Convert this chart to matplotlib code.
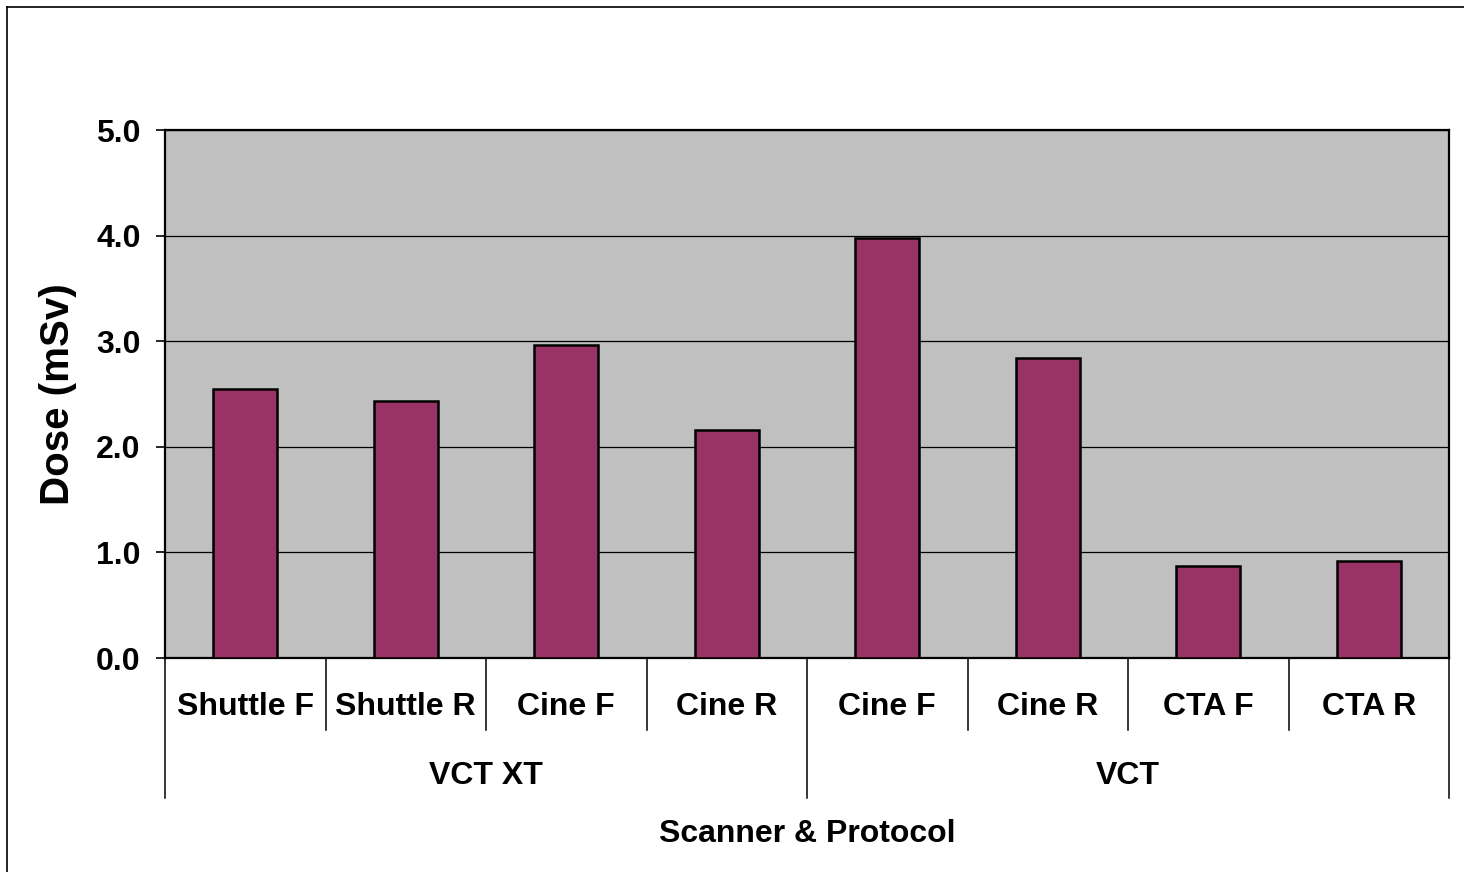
import matplotlib
matplotlib.use('Agg')
import matplotlib.pyplot as plt
from matplotlib.lines import Line2D

# data
protocols = ['Shuttle F', 'Shuttle R', 'Cine F', 'Cine R', 'Cine F', 'Cine R', 'CTA F', 'CTA R']
scanners = ['VCT XT', 'VCT']
scanner_sizes = [4, 4]
dose = [2.55, 2.43, 2.96, 2.16, 3.98, 2.84, 0.87, 0.92]

plt.rcParams['font.family'] = ['Liberation Sans', 'DejaVu Sans']
plt.rcParams['font.weight'] = 'bold'

fig = plt.figure(figsize=(14.64, 8.72), dpi=100)
ax = fig.add_axes([165/1464, 1 - 658/872, (1449 - 165)/1464, (658 - 130)/872])

x = list(range(len(dose)))
ax.set_facecolor('#C0C0C0')
ax.set_axisbelow(True)
ax.yaxis.grid(True, color='black', linewidth=0.9)
ax.bar(x, dose, width=0.4, color='#993366', edgecolor='black', linewidth=1.8, zorder=3)

ax.set_xlim(-0.5, len(dose) - 0.5)
ax.set_ylim(0, 5)
ax.set_yticks([0, 1, 2, 3, 4, 5])
ax.set_yticklabels(['%.1f' % v for v in [0, 1, 2, 3, 4, 5]], fontsize=23, fontweight='bold')
ax.tick_params(axis='y', direction='out', length=6.5, width=1.2, pad=11)
ax.set_xticks([])
for s in ax.spines.values():
    s.set_linewidth(1.6)

ax.set_ylabel('Dose (mSv)', fontsize=29, fontweight='bold', labelpad=14)

# two-level category axis
tr = ax.get_xaxis_transform()
for i, name in enumerate(protocols):
    ax.text(i, -0.093, name, transform=tr, ha='center', va='center', fontsize=23, fontweight='bold')
start = -0.5
bounds = [start]
for n in scanner_sizes:
    bounds.append(bounds[-1] + n)
for j, name in enumerate(scanners):
    mid = (bounds[j] + bounds[j + 1]) / 2
    ax.text(mid, -0.224, name, transform=tr, ha='center', va='center', fontsize=23, fontweight='bold')
for k in range(len(dose) + 1):
    xs = k - 0.5
    bottom = -0.265 if xs in bounds else -0.136
    ax.add_line(Line2D([xs, xs], [0, bottom], transform=tr, color='black', linewidth=1.1, clip_on=False))

ax.text(0.5, -0.333, 'Scanner & Protocol', transform=ax.transAxes, ha='center', va='center',
        fontsize=23, fontweight='bold')

# outer chart border
fig.add_artist(Line2D([7/1464, 7/1464], [0, 1 - 7/872], color='black', linewidth=1.2))
fig.add_artist(Line2D([7/1464, 1], [1 - 7/872, 1 - 7/872], color='black', linewidth=1.2))

fig.savefig('out.png', dpi=100)
